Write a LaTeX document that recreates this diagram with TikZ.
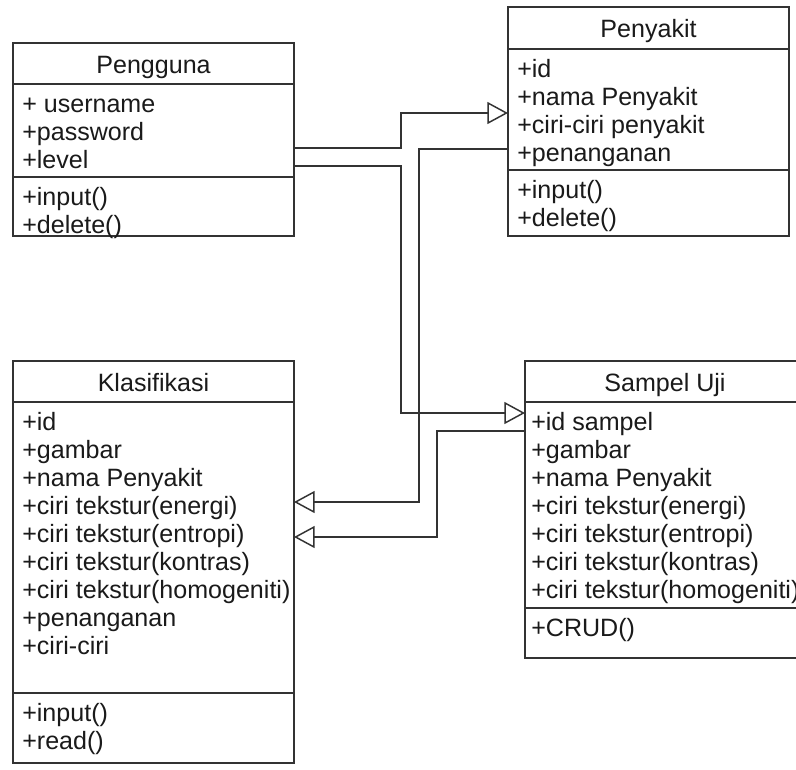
\documentclass[tikz,border=0pt]{standalone}
\usepackage{fontspec}
\setmainfont{Liberation Sans}
\usetikzlibrary{arrows.meta}
\definecolor{linec}{HTML}{333333}
\definecolor{textc}{HTML}{1A1A1A}
\newcommand\umlfont{\fontsize{18.8pt}{21pt}\selectfont}
\tikzset{
  classbox/.style={draw=linec, line width=1.1pt, rectangle, anchor=north west, inner sep=0pt, outer sep=0pt},
  classtitle/.style={anchor=base, inner sep=0pt, font=\umlfont, text=textc},
  member/.style={anchor=base west, inner sep=0pt, font=\umlfont, text=textc},
  divider/.style={draw=linec, line width=1.1pt},
  inherit/.style={draw=linec, line width=1.1pt, -{Triangle[open, length=15.5pt, width=16.5pt]}},
}
\begin{document}
\begin{tikzpicture}[x=0.75pt, y=-0.75pt]
\clip (0,0) rectangle (796,769);
\fill[white] (0,0) rectangle (796,769);

% ---------- Pengguna ----------
\node[classbox, minimum width=210.75pt, minimum height=144.75pt] (peng) at (13,43) {};
\node[classtitle] (peng-t) at (153.5,73) {Pengguna};
\draw[divider] (peng.west |- 0,84) -- (peng.east |- 0,84);
\draw[divider] (peng.west |- 0,177) -- (peng.east |- 0,177);
\foreach \t [count=\i] in {{+ username},{+password},{+level}}
  \node[member] (peng-a\i) at (22,84+28*\i) {\t};
\foreach \t [count=\i] in {{+input()},{+delete()}}
  \node[member] (peng-m\i) at (22,177+28*\i) {\t};

% ---------- Penyakit ----------
\node[classbox, minimum width=210.75pt, minimum height=171.75pt] (peny) at (508,7) {};
\node[classtitle] (peny-t) at (648.5,37) {Penyakit};
\draw[divider] (peny.west |- 0,49) -- (peny.east |- 0,49);
\draw[divider] (peny.west |- 0,170) -- (peny.east |- 0,170);
\foreach \t [count=\i] in {{+id},{+nama Penyakit},{+ciri-ciri penyakit},{+penanganan}}
  \node[member] (peny-a\i) at (517,49+28*\i) {\t};
\foreach \t [count=\i] in {{+input()},{+delete()}}
  \node[member] (peny-m\i) at (517,170+28*\i) {\t};

% ---------- Klasifikasi ----------
\node[classbox, minimum width=210.75pt, minimum height=301.5pt] (klas) at (13,361) {};
\node[classtitle] (klas-t) at (153.5,391) {Klasifikasi};
\draw[divider] (klas.west |- 0,402) -- (klas.east |- 0,402);
\draw[divider] (klas.west |- 0,693) -- (klas.east |- 0,693);
\foreach \t [count=\i] in {{+id},{+gambar},{+nama Penyakit},{+ciri tekstur(energi)},{+ciri tekstur(entropi)},{+ciri tekstur(kontras)},{+ciri tekstur(homogeniti)},{+penanganan},{+ciri-ciri}}
  \node[member] (klas-a\i) at (22,402+28*\i) {\t};
\foreach \t [count=\i] in {{+input()},{+read()}}
  \node[member] (klas-m\i) at (22,693+28*\i) {\t};

% ---------- Sampel Uji ----------
\node[classbox, minimum width=210pt, minimum height=222.75pt] (samp) at (525,361) {};
\node[classtitle] (samp-t) at (665,391) {Sampel Uji};
\draw[divider] (samp.west |- 0,402) -- (samp.east |- 0,402);
\draw[divider] (samp.west |- 0,608) -- (samp.east |- 0,608);
\foreach \t [count=\i] in {{+id sampel},{+gambar},{+nama Penyakit},{+ciri tekstur(energi)},{+ciri tekstur(entropi)},{+ciri tekstur(kontras)},{+ciri tekstur(homogeniti)}}
  \node[member] (samp-a\i) at (531,402+28*\i) {\t};
\node[member] (samp-m1) at (531,636) {+CRUD()};

% ---------- Connectors ----------
\draw[inherit] (peng.east |- 0,148) -- (401,148) -- (401,113) -- (peny.west |- 0,113);
\draw[inherit] (peng.east |- 0,166) -- (401,166) -- (401,413) -- (samp.west |- 0,413);
\draw[inherit] (peny.west |- 0,149) -- (419,149) -- (419,502) -- (klas.east |- 0,502);
\draw[inherit] (samp.west |- 0,431) -- (437,431) -- (437,537) -- (klas.east |- 0,537);
\end{tikzpicture}
\end{document}
